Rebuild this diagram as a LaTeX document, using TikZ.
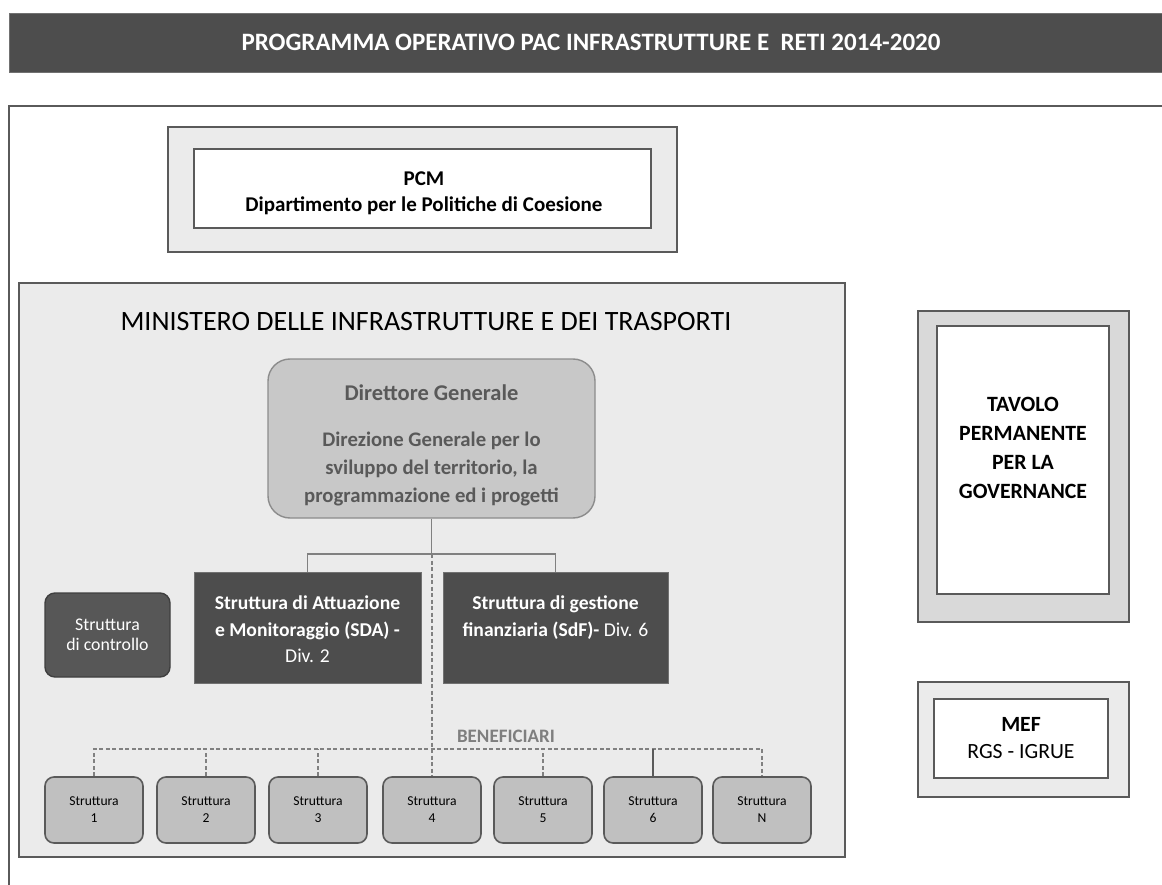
\documentclass[tikz,border=0pt]{standalone}
\usepackage{fontspec}
\setmainfont{Carlito}
\definecolor{edge}{HTML}{5A5A5A}
\definecolor{hdr}{HTML}{4D4D4D}
\definecolor{pale}{HTML}{EBEBEB}
\definecolor{tavfill}{HTML}{D9D9D9}
\definecolor{dgfill}{HTML}{C8C8C8}
\definecolor{dgedge}{HTML}{8C8C8C}
\definecolor{dgtext}{HTML}{595959}
\definecolor{ctrlfill}{HTML}{575757}
\definecolor{sfill}{HTML}{C0C0C0}
\definecolor{conn}{HTML}{808080}
\definecolor{benef}{HTML}{7F7F7F}
\begin{document}
\begin{tikzpicture}[x=1pt,y=-1pt,
  box/.style={draw=edge,line width=1.6pt,inner sep=0pt,align=center},
  panel/.style={box,fill=pale},
  whitebox/.style={box,fill=white},
  darkbox/.style={fill=hdr,draw=hdr!80!white,line width=0.8pt,inner sep=0pt,align=center,text=white},
  sbox/.style={box,fill=sfill,rounded corners=9pt,minimum width=98pt,minimum height=66pt,
    font=\fontsize{13.6}{17}\selectfont},
  link/.style={draw=conn,line width=1.2pt},
  dlink/.style={draw=conn,line width=1.1pt,dash pattern=on 4pt off 2.5pt},
  plain/.style={inner sep=0pt,align=center}]
\useasboundingbox (0,0) rectangle (1162,885);

% page title bar
\node[darkbox,minimum width=1164pt,minimum height=59pt,
  font=\fontsize{25}{29}\selectfont\bfseries] (header) at (591,42.5)
  {PROGRAMMA OPERATIVO PAC INFRASTRUTTURE E\ \ RETI 2014-2020};

% open outer frame (continues past the right and bottom edges)
\coordinate (frameTR) at (1175,106);
\coordinate (frameBL) at (9,895);
\draw[draw=edge,line width=2pt] (frameTR) -| (frameBL);

% PCM
\node[panel,minimum width=509pt,minimum height=125pt] (pcmout) at (422.5,189.5) {};
\node[whitebox,minimum width=457pt,minimum height=79pt] (pcm) at (422.5,188.5) {};
\node[plain,font=\fontsize{21}{26}\selectfont\bfseries] (pcmtxt) at (424,193)
  {PCM\\Dipartimento per le Politiche di Coesione};

% Ministry panel
\node[panel,line width=2pt,minimum width=826pt,minimum height=574pt] (mit) at (432,570) {};
\node[plain,font=\fontsize{28}{32}\selectfont] (mittitle) at (426,322)
  {MINISTERO DELLE INFRASTRUTTURE E DEI TRASPORTI};

% Direttore Generale
\node[draw=dgedge,fill=dgfill,line width=1.4pt,rounded corners=22pt,
  minimum width=327pt,minimum height=159pt] (dg) at (431.5,438.5) {};
\node[plain,text=dgtext,font=\fontsize{20.7}{28}\selectfont\bfseries] (dgtxt) at (431.5,445.5)
  {{\fontsize{22.5}{28}\selectfont Direttore Generale}\\[18pt]Direzione Generale per lo\\sviluppo del territorio, la\\programmazione ed i progetti};

% SDA / SdF
\node[darkbox,minimum width=227pt,minimum height=111pt] (sda) at (307.5,627.5) {};
\node[plain,text=white,font=\fontsize{19.6}{26.5}\selectfont] (sdatxt) at (307.5,629.5)
  {\bfseries Struttura di Attuazione\\\bfseries e Monitoraggio (SDA) -\\Div. 2};
\node[darkbox,minimum width=225pt,minimum height=111pt] (sdf) at (555.5,627.5) {};
\node[plain,text=white,font=\fontsize{19.6}{26.5}\selectfont] (sdftxt) at (555.5,629.5)
  {\bfseries Struttura di gestione\\\textbf{finanziaria (SdF)-} Div. 6\\\mbox{}};

% control structure
\node[fill=ctrlfill,draw=edge!70!black,line width=1.4pt,rounded corners=10pt,
  minimum width=125pt,minimum height=84pt,inner sep=0pt,align=center,text=white,
  font=\fontsize{17.8}{20.5}\selectfont] (ctrl) at (107.5,635) {Struttura\\di controllo};

% connectors from the Direttore
\coordinate (bar) at (432,554);
\draw[link] (dg.south) -- (dg.south |- bar);
\draw[link] (sda.north) |- (bar) -| (sdf.north);

% beneficiaries
\node[sbox] (s1) at (94,810) {Struttura\\1};
\node[sbox] (s2) at (206,810) {Struttura\\2};
\node[sbox] (s3) at (318,810) {Struttura\\3};
\node[sbox] (s4) at (432,810) {Struttura\\4};
\node[sbox] (s5) at (543,810) {Struttura\\5};
\node[sbox] (s6) at (653,810) {Struttura\\6};
\node[sbox] (sN) at (762,810) {Struttura\\N};

\node[plain,text=benef,font=\fontsize{19}{22}\selectfont\bfseries] (benlabel) at (506,736) {BENEFICIARI};
\coordinate (ben) at (432,749);
\draw[dlink] (bar) -- (s4.north);
\draw[dlink] (s1.north) -- (s1.north |- ben) -- (sN.north |- ben) -- (sN.north);
\foreach \s in {s2,s3,s5}{\draw[dlink] (\s.north) -- (\s.north |- ben);}
\draw[link,draw=edge] (s6.north) -- (s6.north |- ben);

% Tavolo permanente
\node[box,fill=tavfill,minimum width=211pt,minimum height=311pt] (tavout) at (1023.5,466.5) {};
\node[whitebox,minimum width=172pt,minimum height=268pt] (tav) at (1023,460) {};
\node[plain,font=\fontsize{21.8}{29}\selectfont\bfseries] (tavtxt) at (1023,448)
  {TAVOLO\\PERMANENTE\\PER LA\\GOVERNANCE};

% MEF
\node[panel,minimum width=211pt,minimum height=115pt] (mefout) at (1023.5,739.5) {};
\node[whitebox,minimum width=174pt,minimum height=79pt,
  font=\fontsize{21.7}{27}\selectfont] (mef) at (1021,738.5) {\bfseries MEF\\RGS - IGRUE};
\end{tikzpicture}
\end{document}
